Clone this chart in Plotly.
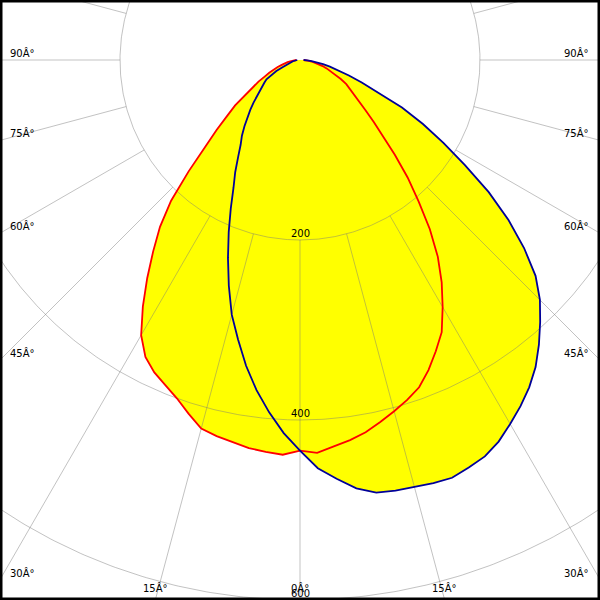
import numpy as np
import plotly.graph_objects as go

# Gamma angles (deg), 0 = straight down, negative = left, positive = right
angles = [-90, -87.5, -85, -82.5, -80, -77.5, -75, -72.5, -70, -67.5, -65, -62.5, -60,
          -57.5, -55, -52.5, -50, -47.5, -45, -42.5, -40, -37.5, -35, -32.5, -30, -27.5,
          -25, -22.5, -20, -17.5, -15, -12.5, -10, -7.5, -5, -2.5, 0, 2.5, 5, 7.5, 10,
          12.5, 15, 17.5, 20, 22.5, 25, 27.5, 30, 32.5, 35, 37.5, 40, 42.5, 45, 47.5, 50,
          52.5, 55, 57.5, 60, 62.5, 65, 67.5, 70, 72.5, 75, 77.5, 80, 82.5, 85, 87.5, 90]

# Intensity values
red_plane = [4, 6, 8, 11, 14, 18, 21, 26, 32, 37, 43, 52, 60,
             73, 88, 102, 121, 143, 175, 212, 242, 268, 296, 325, 353, 372,
             383, 391, 400, 412, 424, 428, 431, 435, 437, 439, 434, 437, 431, 426, 420,
             412, 404, 396, 387, 373, 357, 341, 317, 293, 267, 237, 205, 177, 149, 126, 107,
             92, 80, 72, 65, 58, 50, 42, 36, 31, 26, 21, 17, 13, 10, 7, 4]
blue_plane = [3, 4, 5, 6, 8, 9, 11, 13, 15, 21, 29, 36, 43,
              47, 51, 57, 63, 70, 78, 87, 96, 106, 115, 128, 144, 160,
              182, 207, 234, 263, 293, 318, 345, 370, 393, 415, 434, 454, 467, 480, 488,
              490, 491, 493, 494, 490, 486, 478, 467, 456, 444, 430, 413, 395, 377, 355, 325,
              292, 256, 217, 184, 154, 125, 95, 73, 57, 45, 34, 26, 20, 13, 8, 4]

ring_values = [200, 400, 600]
ring_labels = ["200", "400", "600"]
spoke_angles = list(range(0, 360, 15))
edge_label_angles = [90, 75, 60, 45, 30]
bottom_label_angles = [-15, 0, 15]

SCALE = 0.9          # px per cd
CY_PX = 60
X_HALF = 300 / SCALE
Y_TOP = CY_PX / SCALE
Y_BOT = -(600 - CY_PX) / SCALE


def to_xy(gammas, values):
    g = np.radians(np.asarray(gammas, dtype=float))
    v = np.asarray(values, dtype=float)
    return v * np.sin(g), -v * np.cos(g)


fig = go.Figure()

# yellow fills
for vals in (red_plane, blue_plane):
    x, y = to_xy(angles, vals)
    fig.add_trace(go.Scatter(x=x, y=y, mode="lines", fill="toself",
                             fillcolor="#ffff00", line=dict(width=0, color="#ffff00"),
                             hoverinfo="skip", showlegend=False))

# grid: rings
grid_col = "rgba(120,120,120,0.45)"
th = np.linspace(0, 360, 721)
for rv in ring_values:
    x, y = to_xy(th, [rv] * len(th))
    fig.add_trace(go.Scatter(x=x, y=y, mode="lines", line=dict(color=grid_col, width=1),
                             hoverinfo="skip", showlegend=False))

# grid: spokes starting at first ring
sx, sy = [], []
for a in spoke_angles:
    x, y = to_xy([a, a], [ring_values[0], 1000])
    sx += list(x) + [None]
    sy += list(y) + [None]
fig.add_trace(go.Scatter(x=sx, y=sy, mode="lines", line=dict(color=grid_col, width=1),
                         hoverinfo="skip", showlegend=False))

# curves
for vals, col in ((red_plane, "#ff0000"), (blue_plane, "#000099")):
    x, y = to_xy(angles, vals)
    fig.add_trace(go.Scatter(x=x, y=y, mode="lines", line=dict(color=col, width=1.8),
                             hoverinfo="skip", showlegend=False))

font = dict(family="DejaVu Sans", size=10, color="black")
ann = []
for rv, lab in zip(ring_values, ring_labels):
    ann.append(dict(x=0, y=-rv, xref="x", yref="y", text=lab, showarrow=False,
                    xanchor="center", yanchor="middle", yshift=7, font=font))
for a in edge_label_angles:
    yv = -X_HALF / np.tan(np.radians(a)) if a != 90 else 0.0
    lab = f"{a}Â°"
    ann.append(dict(x=-X_HALF, y=yv, xref="x", yref="y", text=lab, showarrow=False,
                    xanchor="left", yanchor="middle", xshift=8, yshift=7, font=font))
    ann.append(dict(x=X_HALF, y=yv, xref="x", yref="y", text=lab, showarrow=False,
                    xanchor="right", yanchor="middle", xshift=-9, yshift=7, font=font))
for a in bottom_label_angles:
    xv = -Y_BOT * np.tan(np.radians(a))
    ann.append(dict(x=xv, y=Y_BOT, xref="x", yref="y", text=f"{abs(a)}Â°", showarrow=False,
                    xanchor="center", yanchor="middle", yshift=12, font=font))

fig.update_layout(
    width=600, height=600,
    margin=dict(l=0, r=0, t=0, b=0),
    paper_bgcolor="white", plot_bgcolor="white",
    xaxis=dict(range=[-X_HALF, X_HALF], visible=False, fixedrange=True),
    yaxis=dict(range=[Y_BOT, Y_TOP], visible=False, fixedrange=True),
    annotations=ann,
    shapes=[dict(type="rect", xref="paper", yref="paper", x0=0, y0=0, x1=1, y1=1,
                 line=dict(color="black", width=5), layer="above")],
    showlegend=False,
)

fig.write_html("out.html", config={"displayModeBar": False},
               post_script="document.body.style.margin='0';document.body.style.overflow='hidden';")
